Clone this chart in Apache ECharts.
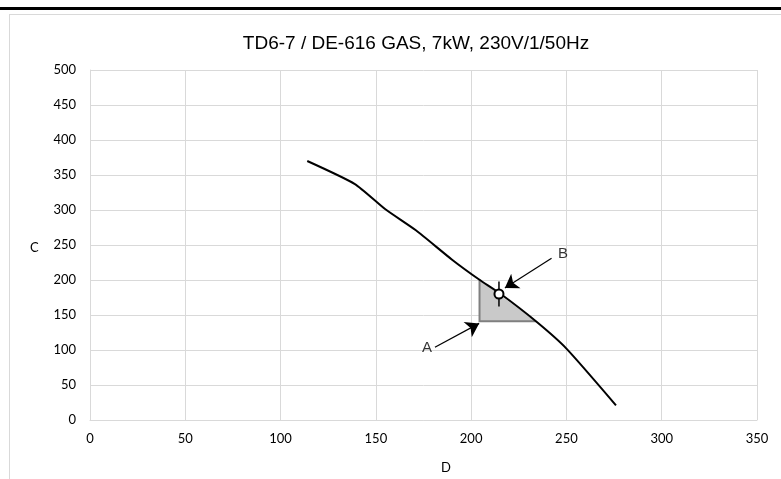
<!DOCTYPE html>
<html>
<head>
<meta charset="utf-8">
<script src="https://cdn.jsdelivr.net/npm/echarts@6/dist/echarts.min.js"></script>
<style>
  body { margin: 0; background: #fff; }
  #bar { position: absolute; left: 0; top: 7px; width: 781px; height: 3px; background: #000; }
  #frame { position: absolute; left: 9px; top: 14px; width: 800px; height: 500px; border: 1px solid #d9d9d9; }
  #chart { position: absolute; left: 0; top: 0; width: 781px; height: 479px; }
</style>
</head>
<body>
<div id="bar"></div>
<div id="frame"></div>
<div id="chart"></div>
<script>
// pump curve
const curveD = [114, 139, 155, 171, 190, 204, 215, 234, 250, 276];
const curveC = [370, 337, 301, 271, 229, 201, 181, 141, 102, 21];

// shaded working range
const rangeD = [204.4, 204.4, 234];
const rangeC = [200, 141, 141];

// duty point B and its tick
const dutyD = 214.6;
const dutyC = 180;
const dutyTick = [198, 162];

// annotations: label pos, arrow start, arrow tip
const noteNames = ['A', 'B'];
const noteLabelD = [176.8, 248.2];
const noteLabelC = [103, 237];
const arrowFromD = [181, 242.2];
const arrowFromC = [104, 231];
const arrowToD = [204.2, 217.7];
const arrowToC = [138, 188.6];

const chart = echarts.init(document.getElementById('chart'));

const gridColor = '#d9d9d9';
const tickFont = { fontFamily: 'Lato', fontSize: 13, color: '#000' };

const option = {
  animation: false,
  title: {
    text: 'TD6-7 / DE-616 GAS, 7kW, 230V/1/50Hz',
    left: 411,
    top: 29,
    textAlign: 'center',
    textStyle: { fontFamily: 'Liberation Sans', fontSize: 19, fontWeight: 'normal', color: '#000' }
  },
  grid: { left: 90, right: 24, top: 70, bottom: 59 },
  xAxis: {
    type: 'value', min: 0, max: 350, interval: 50,
    axisLine: { show: true, lineStyle: { color: gridColor } },
    axisTick: { show: false },
    axisLabel: Object.assign({ margin: 12 }, tickFont),
    splitLine: { lineStyle: { color: gridColor } }
  },
  yAxis: {
    type: 'value', min: 0, max: 500, interval: 50,
    axisLine: { show: true, lineStyle: { color: gridColor } },
    axisTick: { show: false },
    axisLabel: Object.assign({ margin: 14 }, tickFont),
    splitLine: { lineStyle: { color: gridColor } }
  },
  graphic: [
    { type: 'text', left: 30, top: 241, style: { text: 'C', font: '13px Lato', fill: '#000' } },
    { type: 'text', left: 441, top: 461, style: { text: 'D', font: '13px Lato', fill: '#000' } }
  ],
  series: [
    {
      type: 'custom',
      z: 1,
      data: [0],
      renderItem: function(params, api) {
        const pts = rangeD.map((d, i) => api.coord([d, rangeC[i]]));
        return {
          type: 'group',
          children: [
            { type: 'polygon', shape: { points: pts }, style: { fill: '#c9c9c9', stroke: null } },
            { type: 'polyline', shape: { points: pts }, style: { stroke: '#7f7f7f', lineWidth: 2, fill: null } }
          ]
        };
      }
    },
    {
      type: 'line',
      z: 2,
      data: curveD.map((d, i) => [d, curveC[i]]),
      smooth: 0.2,
      symbol: 'none',
      lineStyle: { color: '#000', width: 2 }
    },
    {
      type: 'line',
      z: 3,
      data: dutyTick.map(c => [dutyD, c]),
      symbol: 'none',
      lineStyle: { color: '#000', width: 1.5 }
    },
    {
      type: 'scatter',
      z: 4,
      data: [[dutyD, dutyC]],
      symbol: 'circle',
      symbolSize: 9,
      itemStyle: { color: '#fff', borderColor: '#000', borderWidth: 2, opacity: 1 }
    },
    {
      type: 'lines',
      coordinateSystem: 'cartesian2d',
      z: 5,
      symbol: ['none', 'arrow'],
      symbolSize: [0, 13],
      lineStyle: { color: '#000', width: 1.2, opacity: 1 },
      data: noteNames.map((n, i) => ({
        coords: [[arrowFromD[i], arrowFromC[i]], [arrowToD[i], arrowToC[i]]]
      }))
    },
    {
      type: 'scatter',
      z: 6,
      symbolSize: 1,
      itemStyle: { color: 'rgba(0,0,0,0)' },
      label: {
        show: true, position: 'inside', formatter: '{b}',
        fontFamily: 'Liberation Sans', fontSize: 15, color: '#000'
      },
      data: noteNames.map((n, i) => ({ name: n, value: [noteLabelD[i], noteLabelC[i]] }))
    }
  ]
};

chart.setOption(option);
</script>
</body>
</html>
